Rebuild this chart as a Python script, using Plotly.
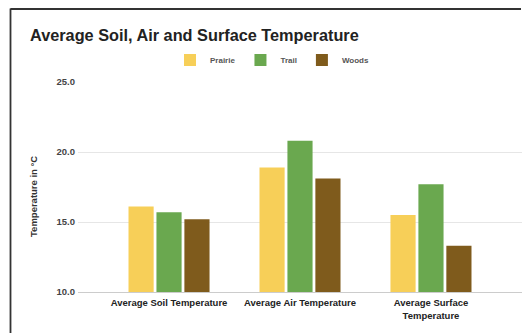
import plotly.graph_objects as go

# Average temperatures (°C) by site and measurement
categories = ["Average Soil Temperature", "Average Air Temperature", "Average Surface<br>Temperature"]
prairie = [16.1, 18.9, 15.5]
trail = [15.7, 20.8, 17.7]
woods = [15.2, 18.1, 13.3]
y_ticks = [10, 15, 20, 25]
y_tick_labels = ["10.0", "15.0", "20.0", "25.0"]

W, H = 522, 334
L, R, T, B = 78, 0, 82, 42
plot_w = W - L - R
plot_h = H - T - B


def px_x(x):
    return (x - L) / plot_w


def px_y(y):
    return (H - B - y) / plot_h


font_family = "Liberation Sans, Arial, sans-serif"

fig = go.Figure()
for name, vals, color in [
    ("Prairie", prairie, "#F7CF58"),
    ("Trail", trail, "#6AA84F"),
    ("Woods", woods, "#7F5B1C"),
]:
    fig.add_trace(go.Bar(x=categories, y=vals, name=name, marker=dict(color=color, line=dict(width=0))))

fig.update_layout(
    width=W,
    height=H,
    margin=dict(l=L, r=R, t=T, b=B, pad=0),
    paper_bgcolor="white",
    plot_bgcolor="white",
    barmode="group",
    bargap=0.36,
    bargroupgap=0.1,
    title=dict(
        text="<b>Average Soil, Air and Surface Temperature</b>",
        x=30 / W,
        xref="container",
        xanchor="left",
        y=1 - 35 / H,
        yref="container",
        yanchor="middle",
        font=dict(family=font_family, size=16.3, color="#222222"),
    ),
    legend=dict(
        orientation="h",
        x=px_x(170),
        y=px_y(60),
        xanchor="left",
        yanchor="middle",
        font=dict(family=font_family, size=8, color="#555555", weight="bold"),
        itemwidth=30,
        traceorder="normal",
    ),
    xaxis=dict(
        range=[-0.695, 2.695],
        showgrid=False,
        zeroline=False,
        showline=True,
        linecolor="#cccccc",
        linewidth=1,
        ticks="",
        ticklabelstandoff=2,
        tickfont=dict(family=font_family, size=9.5, color="#222222", weight="bold"),
    ),
    yaxis=dict(
        range=[10, 25],
        tickvals=y_ticks,
        ticktext=y_tick_labels,
        showgrid=True,
        gridcolor="#e6e6e6",
        gridwidth=1,
        zeroline=False,
        showline=False,
        ticks="",
        ticklabelstandoff=2,
        tickfont=dict(family=font_family, size=9.5, color="#444444", weight="bold"),
    ),
    annotations=[
        dict(
            text="Temperature in °C",
            x=px_x(33),
            y=px_y(197),
            xref="paper",
            yref="paper",
            xanchor="center",
            yanchor="middle",
            textangle=-90,
            showarrow=False,
            font=dict(family=font_family, size=9.5, color="#333333", weight="bold"),
        )
    ],
    shapes=[
        dict(type="line", xref="paper", yref="paper",
             x0=px_x(10.5), x1=px_x(10.5), y0=px_y(8.5), y1=px_y(H - 1),
             line=dict(color="#333333", width=1.8)),
        dict(type="line", xref="paper", yref="paper",
             x0=px_x(10.5), x1=px_x(W - 1), y0=px_y(9), y1=px_y(9),
             line=dict(color="#333333", width=1.8)),
    ],
)

fig.write_html("out.html", config={"displayModeBar": False})
